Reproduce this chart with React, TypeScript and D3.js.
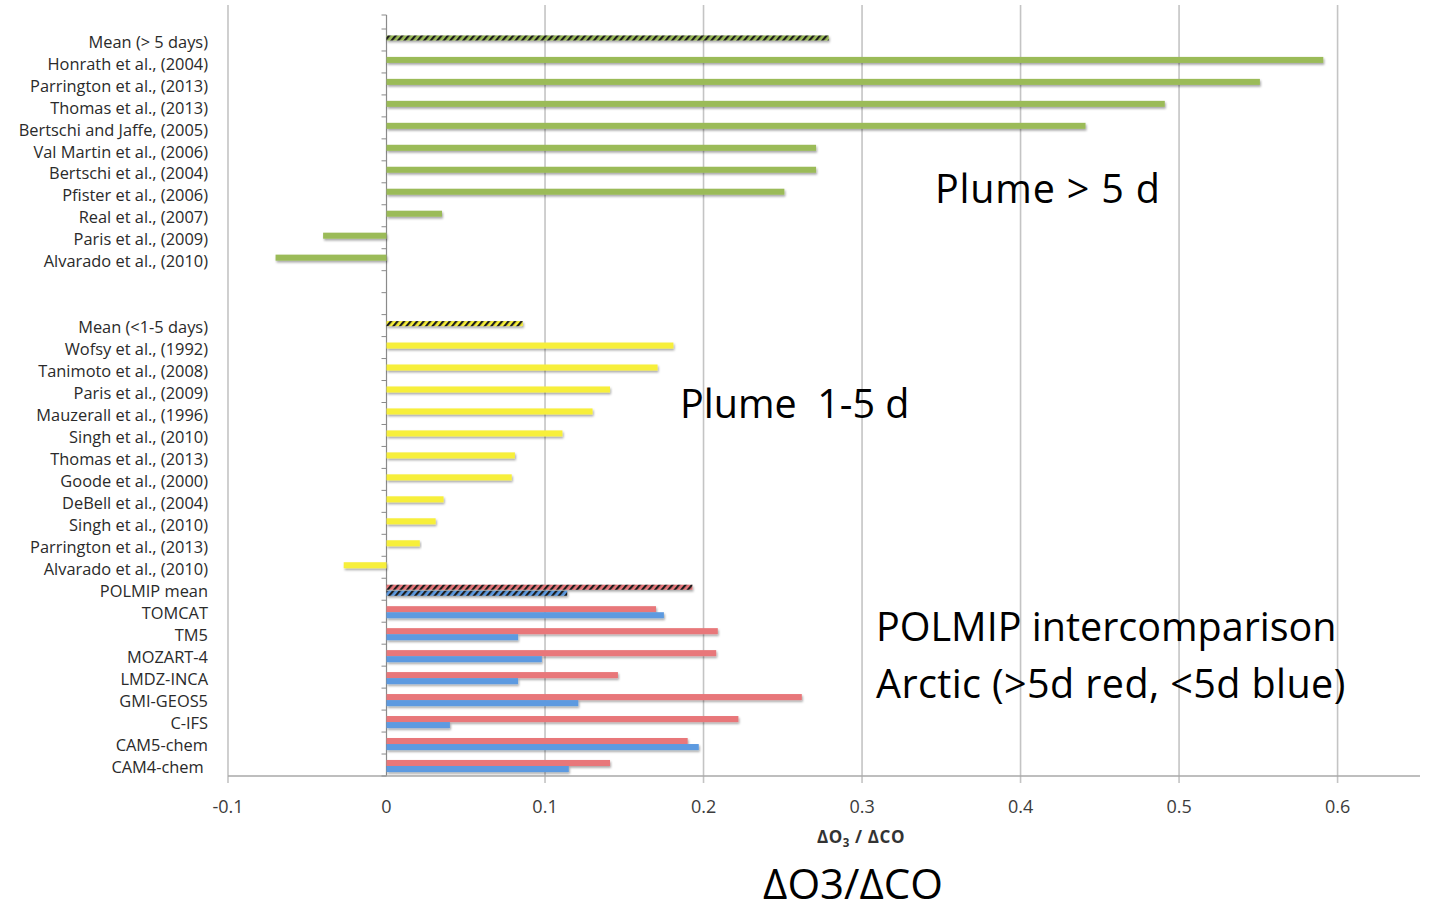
import React from "react";
import * as d3 from "d3";

// ---- data ----
const longLabels = [
  "Mean (> 5 days)",
  "Honrath et al., (2004)",
  "Parrington et al., (2013)",
  "Thomas et al., (2013)",
  "Bertschi and Jaffe, (2005)",
  "Val Martin et al., (2006)",
  "Bertschi et al., (2004)",
  "Pfister et al., (2006)",
  "Real et al., (2007)",
  "Paris et al., (2009)",
  "Alvarado et al., (2010)",
];
const longValues = [0.279, 0.591, 0.551, 0.491, 0.441, 0.271, 0.271, 0.251, 0.035, -0.04, -0.07];

const gapLabels = ["", ""];

const shortLabels = [
  "Mean (<1-5 days)",
  "Wofsy et al., (1992)",
  "Tanimoto et al., (2008)",
  "Paris et al., (2009)",
  "Mauzerall et al., (1996)",
  "Singh et al., (2010)",
  "Thomas et al., (2013)",
  "Goode et al., (2000)",
  "DeBell et al., (2004)",
  "Singh et al., (2010)",
  "Parrington et al., (2013)",
  "Alvarado et al., (2010)",
];
const shortValues = [0.086, 0.181, 0.171, 0.141, 0.13, 0.111, 0.081, 0.079, 0.036, 0.031, 0.021, -0.027];

const polmipLabels = [
  "POLMIP mean",
  "TOMCAT",
  "TM5",
  "MOZART-4",
  "LMDZ-INCA",
  "GMI-GEOS5",
  "C-IFS",
  "CAM5-chem",
  "CAM4-chem ",
];
const polmipRed = [0.193, 0.17, 0.209, 0.208, 0.146, 0.262, 0.222, 0.19, 0.141];
const polmipBlue = [0.114, 0.175, 0.083, 0.098, 0.083, 0.121, 0.04, 0.197, 0.115];

const xTicks = [-0.1, 0, 0.1, 0.2, 0.3, 0.4, 0.5, 0.6];
const xDomain = [-0.1, 0.652];

const GREEN = "#9bbb59";
const YELLOW = "#f7ef3a";
const RED = "#e8777a";
const BLUE = "#5d9ae0";

type Row = { label: string; a: number | null; b: number | null; colA: string; colB: string; hatched: boolean };

const rows: Row[] = [
  ...longLabels.map((l, i) => ({ label: l, a: longValues[i], b: null, colA: GREEN, colB: BLUE, hatched: i === 0 })),
  ...gapLabels.map((l) => ({ label: l, a: null, b: null, colA: GREEN, colB: BLUE, hatched: false })),
  ...shortLabels.map((l, i) => ({ label: l, a: shortValues[i], b: null, colA: YELLOW, colB: BLUE, hatched: i === 0 })),
  ...polmipLabels.map((l, i) => ({ label: l, a: polmipRed[i], b: polmipBlue[i], colA: RED, colB: BLUE, hatched: i === 0 })),
];

const FONT = "'Open Sans', 'DejaVu Sans', sans-serif";

export default function App() {
  const W = 1432;
  const H = 913;
  const left = 228;
  const right = 1420;
  const top = 29;
  const bottom = 776;

  const x = d3.scaleLinear().domain(xDomain).range([left, right]);
  const y = d3
    .scaleBand<number>()
    .domain(rows.map((_, i) => i))
    .range([top, bottom]);
  const bw = y.bandwidth();
  const sub = d3.scaleBand<string>().domain(["a", "b"]).range([bw * 0.27, bw * 0.82]);
  const sh = sub.bandwidth();
  const x0 = x(0);

  const bar = (v: number | null, key: "a" | "b", i: number, col: string, hatched: boolean) => {
    if (v === null) return null;
    const yy = (y(i) as number) + (sub(key) as number);
    const xa = Math.min(x(v), x0);
    const w = Math.abs(x(v) - x0);
    const patId = col === GREEN ? "hG" : col === YELLOW ? "hY" : col === RED ? "hR" : "hB";
    return (
      <g key={key + i} filter="url(#shadow)">
        <rect x={xa} y={hatched ? yy + 0.5 : yy} width={w} height={hatched ? sh - 1 : sh} fill={hatched ? `url(#${patId})` : col} />
      </g>
    );
  };

  const patterns = [
    ["hG", GREEN],
    ["hY", YELLOW],
    ["hR", RED],
    ["hB", BLUE],
  ];

  return (
    <svg width={W} height={H} style={{ position: "absolute", left: 0, top: 0, background: "#fff" }}>
      <defs>
        <filter id="shadow" x="-5%" y="-100%" width="110%" height="300%">
          <feDropShadow dx="1" dy="1.8" stdDeviation="1.1" floodColor="#000" floodOpacity="0.35" />
        </filter>
        {patterns.map(([id, c]) => (
          <pattern key={id} id={id} width="5" height="5" patternUnits="userSpaceOnUse" patternTransform="rotate(40)">
            <rect width="5" height="5" fill={c} />
            <rect width="2.2" height="5" fill="#1e1e1e" />
          </pattern>
        ))}
      </defs>

      {/* gridlines */}
      {xTicks.map((t) => (
        <line
          key={"g" + t}
          x1={x(t)}
          x2={x(t)}
          y1={t === 0 ? 15 : 5}
          y2={bottom + (t === 0 ? 0 : 7)}
          stroke={t === 0 ? "#8a8a8a" : "#c4c4c4"}
          strokeWidth={t === 0 ? 1.2 : 1.6}
        />
      ))}
      {/* x axis line */}
      <line x1={left} x2={right} y1={bottom} y2={bottom} stroke="#a8a8a8" strokeWidth={1.5} />

      {/* category ticks */}
      {[15, ...rows.map((_, i) => y(i) as number), bottom].map((yy, i) => (
        <line key={"ct" + i} x1={x0 - 5} x2={x0} y1={yy} y2={yy} stroke="#8a8a8a" strokeWidth={1} />
      ))}

      {/* bars */}
      {rows.map((r, i) => (
        <g key={"r" + i}>
          {bar(r.a, "a", i, r.colA, r.hatched)}
          {bar(r.b, "b", i, r.colB, r.hatched)}
        </g>
      ))}

      {/* category labels */}
      {rows.map((r, i) => (
        <text
          key={"l" + i}
          x={208}
          y={(y(i) as number) + bw / 2 + 3.3}
          textAnchor="end"
          dominantBaseline="middle"
          fontFamily={FONT}
          fontSize={16.4}
          fill="#2a2a2a"
          style={{ whiteSpace: "pre" }}
        >
          {r.label}
        </text>
      ))}

      {/* x tick labels */}
      {xTicks.map((t) => (
        <text
          key={"xt" + t}
          x={x(t)}
          y={808}
          textAnchor="middle"
          dominantBaseline="middle"
          fontFamily={FONT}
          fontSize={18}
          fill="#3c3c3c"
        >
          {String(t)}
        </text>
      ))}

      {/* axis title */}
      <text x={861} y={843} textAnchor="middle" fontFamily={FONT} fontSize={17} fontWeight="bold" fill="#333" letterSpacing={0.6}>
        ΔO<tspan fontSize={11.5} dy={4}>3</tspan>
        <tspan dy={-4}> / ΔCO</tspan>
      </text>

      {/* annotations */}
      <g fontFamily={FONT} fill="#000" fontSize={39.5}>
        <text x={935} y={203} letterSpacing={0.8}>Plume &gt; 5 d</text>
        <text x={680} y={418} style={{ whiteSpace: "pre" }}>Plume  1-5 d</text>
        <text x={876} y={641}>POLMIP intercomparison</text>
        <text x={876} y={698} letterSpacing={0.4}>Arctic (&gt;5d red, &lt;5d blue)</text>
        <text x={853} y={899} textAnchor="middle" fontSize={42}>ΔO3/ΔCO</text>
      </g>
    </svg>
  );
}
